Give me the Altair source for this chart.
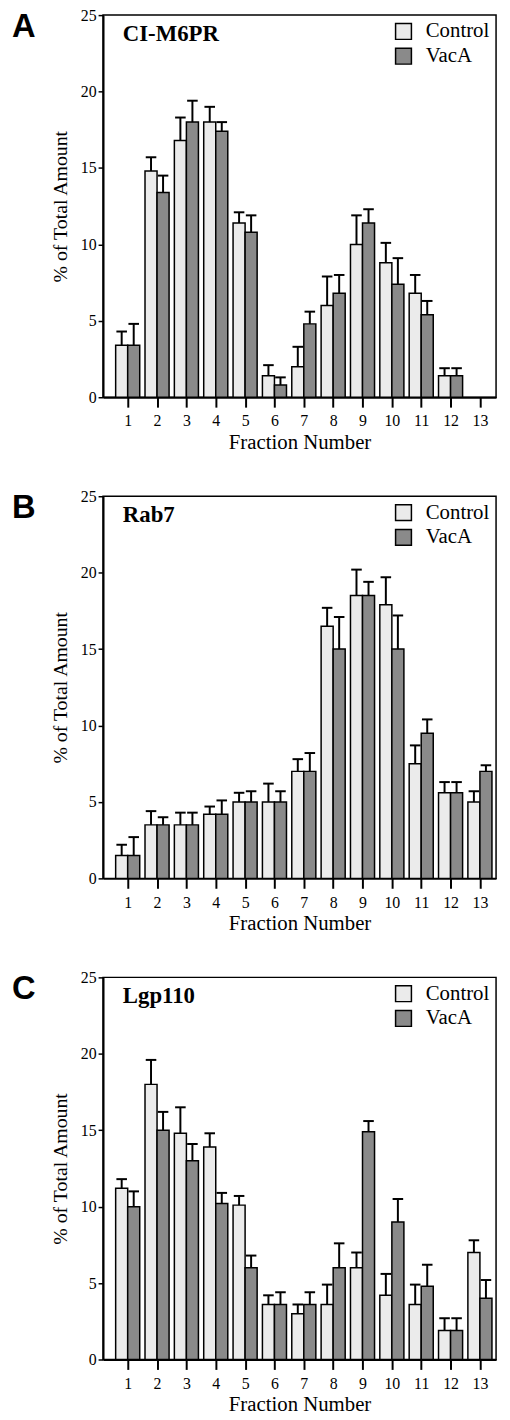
import altair as alt
import pandas as pd

fractions = list(range(1, 14))
groups = ["Control", "VacA"]

# Panel A: CI-M6PR
a_control = [3.4, 14.8, 16.8, 18.0, 11.4, 1.4, 2.0, 6.0, 10.0, 8.8, 6.8, 1.4, 0.0]
a_control_sem = [0.9, 0.9, 1.5, 1.0, 0.7, 0.7, 1.3, 1.9, 1.9, 1.3, 1.2, 0.5, 0.0]
a_vaca = [3.4, 13.4, 18.0, 17.4, 10.8, 0.8, 4.8, 6.8, 11.4, 7.4, 5.4, 1.4, 0.0]
a_vaca_sem = [1.4, 1.1, 1.4, 0.6, 1.1, 0.5, 0.8, 1.2, 0.9, 1.7, 0.9, 0.5, 0.0]

# Panel B: Rab7
b_control = [1.5, 3.5, 3.5, 4.2, 5.0, 5.0, 7.0, 16.5, 18.5, 17.9, 7.5, 5.6, 5.0]
b_control_sem = [0.7, 0.9, 0.8, 0.5, 0.6, 1.2, 0.8, 1.2, 1.7, 1.8, 1.2, 0.7, 0.7]
b_vaca = [1.5, 3.5, 3.5, 4.2, 5.0, 5.0, 7.0, 15.0, 18.5, 15.0, 9.5, 5.6, 7.0]
b_vaca_sem = [1.2, 0.5, 0.8, 0.9, 0.7, 0.7, 1.2, 2.1, 0.9, 2.2, 0.9, 0.7, 0.4]

# Panel C: Lgp110
c_control = [11.2, 18.0, 14.8, 13.9, 10.1, 3.6, 3.0, 3.6, 6.0, 4.2, 3.6, 1.9, 7.0]
c_control_sem = [0.6, 1.6, 1.7, 0.9, 0.6, 0.6, 0.6, 1.3, 1.0, 1.4, 1.3, 0.8, 0.8]
c_vaca = [10.0, 15.0, 13.0, 10.2, 6.0, 3.6, 3.6, 6.0, 14.9, 9.0, 4.8, 1.9, 4.0]
c_vaca_sem = [1.0, 1.2, 1.1, 0.7, 0.8, 0.8, 0.8, 1.6, 0.7, 1.5, 1.4, 0.8, 1.2]

y_ticks = [0, 5, 10, 15, 20, 25]

SERIF = "Liberation Serif"
SANS = "Liberation Sans"
W, H = 397, 386
BAR_W = 0.41
CAP = 0.18


def make_df(ctrl, ctrl_sem, vac, vac_sem):
    rows = []
    for i, f in enumerate(fractions):
        rows.append({"fraction": f, "group": "Control", "value": ctrl[i], "sem": ctrl_sem[i], "side": -1})
        rows.append({"fraction": f, "group": "VacA", "value": vac[i], "sem": vac_sem[i], "side": 0})
    return pd.DataFrame(rows)


def panel(letter, name, ctrl, ctrl_sem, vac, vac_sem):
    df = make_df(ctrl, ctrl_sem, vac, vac_sem)
    base = alt.Chart(df).transform_filter("datum.value > 0").transform_calculate(
        x0=f"datum.fraction + datum.side * {BAR_W}",
        x1=f"datum.fraction + datum.side * {BAR_W} + {BAR_W}",
        xc=f"datum.fraction + datum.side * {BAR_W} + {BAR_W / 2}",
        upper="datum.value + datum.sem",
    )
    xscale = alt.Scale(domain=[0.16, 13.55], nice=False, zero=False)
    yscale = alt.Scale(domain=[0, 25], nice=False)
    xaxis = alt.Axis(values=fractions, format="d", tickSize=10, tickWidth=2,
                     labelFontSize=16, labelPadding=6, labelOverlap=False,
                     title="Fraction Number", titleFontSize=21, titleFontWeight="normal",
                     titlePadding=3, labelFlush=False, grid=False)
    yaxis = alt.Axis(values=y_ticks, tickSize=5, tickWidth=1.5, labelFontSize=16,
                     labelPadding=2, labelOverlap=False, title="% of Total Amount",
                     titleFontSize=20, titleFontWeight="normal", titlePadding=10, grid=False)

    bars = base.mark_bar(stroke="black", strokeWidth=1.5).encode(
        x=alt.X("x0:Q", scale=xscale, axis=xaxis),
        x2="x1:Q",
        y=alt.Y("value:Q", scale=yscale, axis=yaxis),
        y2=alt.datum(0),
        fill=alt.Fill("group:N", scale=alt.Scale(domain=groups, range=["#ebebeb", "#8a8a8a"]),
                      legend=alt.Legend(title=None, orient="top-right", offset=6,
                                        symbolType="square", symbolSize=256,
                                        symbolStrokeColor="black", symbolStrokeWidth=1.5,
                                        symbolOpacity=1, labelFont=SERIF, labelFontSize=21,
                                        labelColor="black", labelOffset=12, rowPadding=2)),
    )
    stems = base.mark_rule(color="black", strokeWidth=2).encode(
        x=alt.X("xc:Q", scale=xscale, axis=xaxis),
        y=alt.Y("value:Q", scale=yscale, axis=yaxis),
        y2="upper:Q",
    )
    caps = base.transform_calculate(
        c0=f"datum.xc - {CAP}", c1=f"datum.xc + {CAP}"
    ).mark_rule(color="black", strokeWidth=2).encode(
        x=alt.X("c0:Q", scale=xscale, axis=xaxis),
        x2="c1:Q",
        y=alt.Y("upper:Q", scale=yscale, axis=yaxis),
    )
    lab = pd.DataFrame({"t": [name]})
    name_txt = alt.Chart(lab).mark_text(
        font=SERIF, fontWeight="bold", fontSize=23, align="left", baseline="alphabetic", color="black"
    ).encode(text="t:N", x=alt.value(20), y=alt.value(26))
    let = pd.DataFrame({"t": [letter]})
    letter_txt = alt.Chart(let).mark_text(
        font=SANS, fontWeight="bold", fontSize=33, align="left", baseline="top", color="black"
    ).encode(text="t:N", x=alt.value(-92), y=alt.value(-4))
    return alt.layer(bars, stems, caps, name_txt, letter_txt).properties(width=W, height=H)


chart = alt.vconcat(
    panel("A", "CI-M6PR", a_control, a_control_sem, a_vaca, a_vaca_sem),
    panel("B", "Rab7", b_control, b_control_sem, b_vaca, b_vaca_sem),
    panel("C", "Lgp110", c_control, c_control_sem, c_vaca, c_vaca_sem),
    spacing=34,
).resolve_scale(fill="independent").resolve_legend(fill="independent").configure_view(
    stroke="black", strokeWidth=1.5
).configure_axis(
    domainColor="black", domainWidth=2, tickColor="black", labelColor="black",
    titleColor="black", labelFont=SERIF, titleFont=SERIF
).properties(padding={"left": 3, "top": -9, "right": 5, "bottom": 5})

chart.save("out.html", embed_options={"renderer": "svg", "actions": False})
